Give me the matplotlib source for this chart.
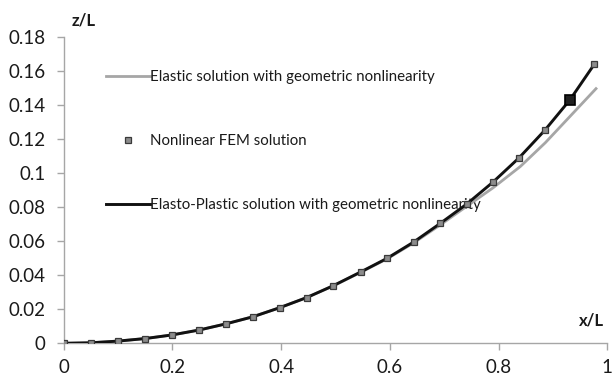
import matplotlib
matplotlib.use("Agg")
import matplotlib.pyplot as plt
from matplotlib.lines import Line2D

# Data
fem_x = [0.0, 0.05, 0.10, 0.15, 0.199, 0.249, 0.298, 0.348, 0.397, 0.447, 0.496,
         0.546, 0.595, 0.644, 0.693, 0.741, 0.790, 0.838, 0.885, 0.931, 0.976]
fem_y = [0.0, 0.0003, 0.0013, 0.0028, 0.0049, 0.0078, 0.0114, 0.0156, 0.0209, 0.0269, 0.0339,
         0.0419, 0.0500, 0.0596, 0.0706, 0.0818, 0.0949, 0.1092, 0.1253, 0.1431, 0.1641]
elastic_x = [0.0, 0.05, 0.10, 0.15, 0.199, 0.249, 0.298, 0.348, 0.397, 0.447, 0.496,
             0.546, 0.595, 0.644, 0.693, 0.741, 0.790, 0.840, 0.886, 0.930, 0.981]
elastic_y = [0.0, 0.0003, 0.0013, 0.0028, 0.0049, 0.0078, 0.0114, 0.0156, 0.0209, 0.0269, 0.0338,
             0.0417, 0.0497, 0.0591, 0.0697, 0.0805, 0.0915, 0.1040, 0.1180, 0.1330, 0.1504]
highlight_index = 19

x_ticks = [0, 0.2, 0.4, 0.6, 0.8, 1]
x_tick_labels = ["0", "0.2", "0.4", "0.6", "0.8", "1"]
y_ticks = [0, 0.02, 0.04, 0.06, 0.08, 0.1, 0.12, 0.14, 0.16, 0.18]
y_tick_labels = ["0", "0.02", "0.04", "0.06", "0.08", "0.1", "0.12", "0.14", "0.16", "0.18"]

label_elastic = "Elastic solution with geometric nonlinearity"
label_fem = "Nonlinear FEM solution"
label_ep = "Elasto-Plastic solution with geometric nonlinearity"

plt.rcParams['font.family'] = ['Lato', 'DejaVu Sans']

W, H = 612, 379
fig = plt.figure(figsize=(W / 100, H / 100), dpi=100)
ax = fig.add_axes([63.7 / W, 1 - 343.3 / H, (607.3 - 63.7) / W, (343.3 - 37.3) / H])

ax.plot(elastic_x, elastic_y, color='#a6a6a6', lw=2.0, zorder=3, solid_capstyle='butt')
ax.plot(fem_x, fem_y, color='#111111', lw=2.1, zorder=4)
ax.plot(fem_x, fem_y, ls='none', marker='s', ms=5, mfc='#8c8c8c', mec='#3a3a3a', mew=0.9, zorder=5)
ax.plot([fem_x[highlight_index]], [fem_y[highlight_index]], ls='none', marker='s', ms=7.2,
        mfc='#202020', mec='#000000', mew=1.2, zorder=6)

ax.set_xlim(0, 1)
ax.set_ylim(0, 0.18)
ax.set_xticks(x_ticks)
ax.set_xticklabels(x_tick_labels)
ax.set_yticks(y_ticks)
ax.set_yticklabels(y_tick_labels)

for s in ['top', 'right']:
    ax.spines[s].set_visible(False)
for s in ['left', 'bottom']:
    ax.spines[s].set_color('#a6a6a6')
    ax.spines[s].set_linewidth(1.0)
ax.tick_params(axis='both', direction='out', length=5, width=1.0, color='#a6a6a6',
               labelsize=13.5, labelcolor='#1a1a1a')
ax.tick_params(axis='y', pad=8)
ax.tick_params(axis='x', pad=6)

fig.text(84 / W, 1 - 20 / H, "z/L", fontsize=12, fontweight='bold', ha='center', va='center', color='#1a1a1a')
fig.text(592 / W, 1 - 321 / H, "x/L", fontsize=12, fontweight='bold', ha='center', va='center', color='#1a1a1a')

handles = [
    Line2D([], [], color='#a6a6a6', lw=2.0),
    Line2D([], [], ls='none', marker='s', ms=5, mfc='#8c8c8c', mec='#3a3a3a', mew=0.9),
    Line2D([], [], color='#111111', lw=2.1),
]
leg = ax.legend(handles, [label_elastic, label_fem, label_ep], loc='upper left',
                bbox_to_anchor=(106 / W, 1 - 70 / H), bbox_transform=fig.transFigure,
                frameon=False, fontsize=10.8, handlelength=2.9, handletextpad=0.05,
                labelspacing=3.35, borderpad=0, borderaxespad=0)
for t in leg.get_texts():
    t.set_color('#1a1a1a')
leg.set_zorder(1)

fig.savefig("out.png", dpi=100)
